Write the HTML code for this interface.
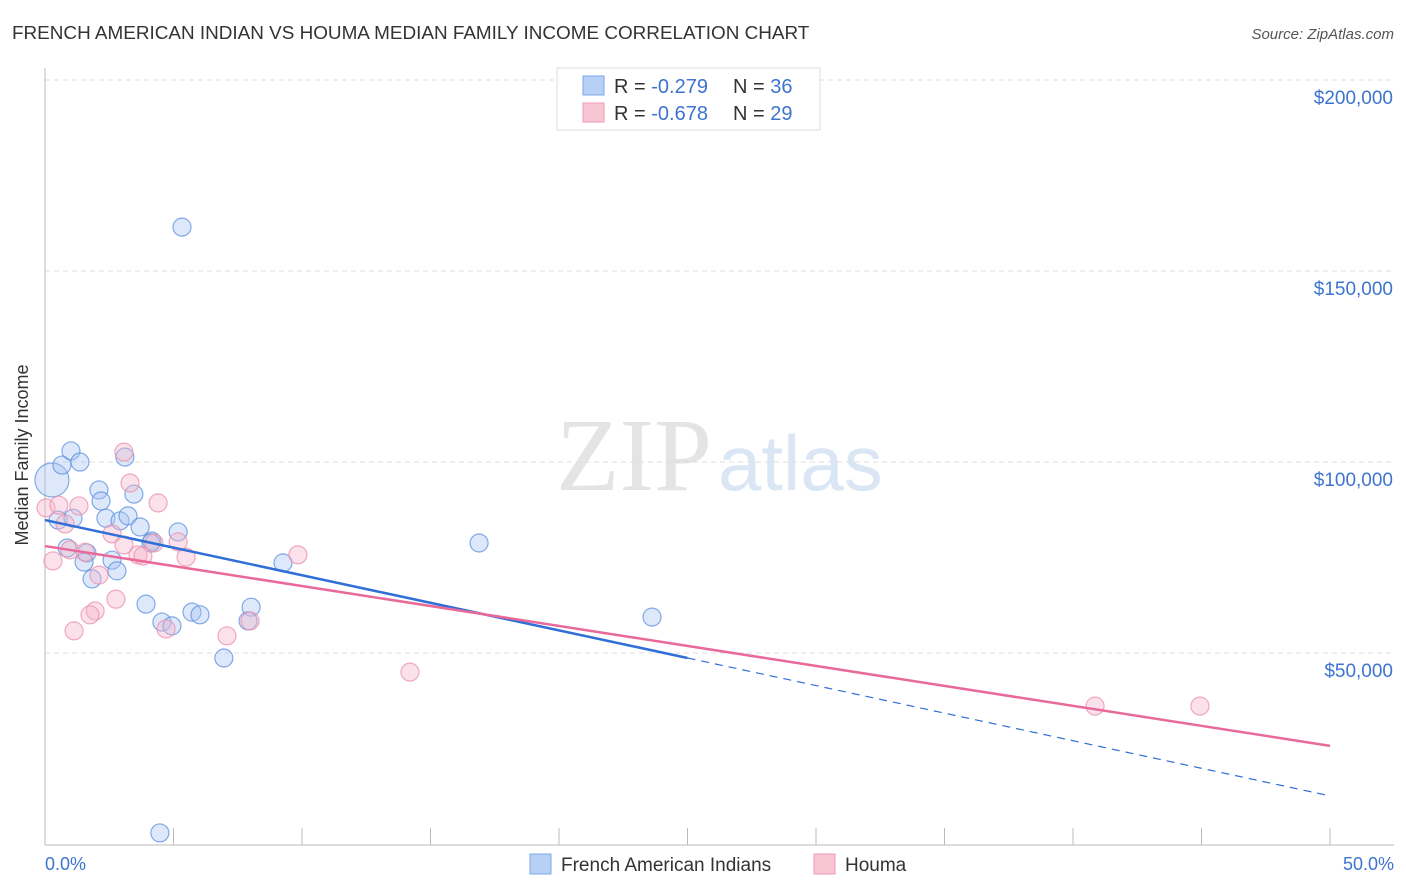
<!DOCTYPE html>
<html><head><meta charset="utf-8"><style>
body{margin:0;background:#fff;font-family:"Liberation Sans",sans-serif;}
svg{display:block}
</style></head><body>
<svg id="chart" width="1406" height="892" xmlns="http://www.w3.org/2000/svg">
<text x="12" y="39" font-size="18.9" fill="#333">FRENCH AMERICAN INDIAN VS HOUMA MEDIAN FAMILY INCOME CORRELATION CHART</text>
<text x="1394" y="39" font-size="15" fill="#555" font-style="italic" text-anchor="end">Source: ZipAtlas.com</text>
<text x="712" y="490" font-size="104" fill="#e4e4e4" font-family="Liberation Serif,serif" text-anchor="end">ZIP</text>
<text x="718" y="490" font-size="78" fill="#dbe6f5">atlas</text>
<g id="grid"></g>
<line x1="45" y1="68" x2="45" y2="845" stroke="#bbb"/>
<line x1="45" y1="845" x2="1394" y2="845" stroke="#bbb"/>
<text x="28" y="455" font-size="18" fill="#333" text-anchor="middle" transform="rotate(-90 28 455)">Median Family Income</text>
<text x="45" y="870" font-size="18" fill="#3d74d0">0.0%</text>
<text x="1394" y="870" font-size="18" fill="#3d74d0" text-anchor="end">50.0%</text>
<g id="marks"></g>
<g>
<rect x="557" y="68" width="263" height="62" fill="#fff" stroke="#ddd"/>
<rect x="583" y="76" width="21" height="19" fill="#b7d0f5" stroke="#7ea6e8"/>
<rect x="583" y="103" width="21" height="19" fill="#f8c5d4" stroke="#ef9ab3"/>
<text x="614" y="93" font-size="20" fill="#333">R = <tspan fill="#3d74d0">-0.279</tspan><tspan x="733">N = </tspan><tspan fill="#3d74d0">36</tspan></text>
<text x="614" y="120" font-size="20" fill="#333">R = <tspan fill="#3d74d0">-0.678</tspan><tspan x="733">N = </tspan><tspan fill="#3d74d0">29</tspan></text>
</g>
<g>
<rect x="530" y="854" width="21" height="20" fill="#b7d0f5" stroke="#7ea6e8"/>
<text x="561" y="871" font-size="19" fill="#333">French American Indians</text>
<rect x="814" y="854" width="21" height="20" fill="#f8c5d4" stroke="#ef9ab3"/>
<text x="845" y="871" font-size="19" fill="#333">Houma</text>
</g>
</svg>
<script>
const yTicks=[50000,100000,150000,200000];
const yTickLabels=["$50,000","$100,000","$150,000","$200,000"];
const xTicks=[0,5,10,15,20,25,30,35,40,45,50];
const blueX=[0.27,0.66,1.01,1.36,0.51,1.09,0.86,1.63,1.52,1.83,2.10,2.18,2.37,2.92,3.23,3.11,3.46,3.70,2.61,2.80,4.16,5.18,3.93,4.55,4.94,5.72,6.03,6.96,8.02,7.90,9.26,5.33,4.47,16.89,23.62,4.12];
const blueY=[95300,99200,102900,100000,84800,85300,77500,76200,73800,69400,92700,89800,85300,84600,85900,101300,91600,83000,74300,71500,79300,81700,62800,58100,57100,60700,60000,48700,62000,58400,73600,161500,2900,78800,59400,78800];
const pinkX=[0.04,0.54,1.32,0.78,0.97,0.31,1.56,2.10,1.95,1.75,1.13,2.76,2.61,3.07,3.07,3.31,3.62,3.81,4.40,4.24,5.18,5.49,4.71,7.08,7.98,9.84,14.20,40.86,44.94];
const pinkY=[88000,88700,88500,83800,77000,74100,76400,70400,61000,60000,55800,64100,81200,78300,102600,94500,75700,75400,89300,78800,79100,75100,56300,54500,58400,75700,45000,36100,36100];
const blueTrend=[84800,-1444];
const pinkTrend=[78000,-1046];
const NS="http://www.w3.org/2000/svg";
const sx=v=>45+v*25.7;
const sy=v=>844-v/261.8;
const grid=document.getElementById('grid'),marks=document.getElementById('marks');
function mk(tag,attrs,parent){const e=document.createElementNS(NS,tag);for(const k in attrs)e.setAttribute(k,attrs[k]);parent.appendChild(e);return e;}
yTicks.forEach((t,i)=>{
 const l=mk('line',{x1:45,x2:1394,y1:sy(t),y2:sy(t),stroke:'#ddd','stroke-dasharray':'5,4'},grid);
 
 
 const tx=mk('text',{x:1393,y:sy(t)+24,'font-size':19,fill:'#3d74d0','text-anchor':'end'},grid);
 tx.textContent=yTickLabels[i];
 
 
});
xTicks.forEach(t=>{
 const l=mk('line',{x1:sx(t),x2:sx(t),y1:828,y2:845,stroke:'#bbb'},grid);
 
 
});
function dots(xs,ys,fill,stroke,name){
 xs.forEach((x,i)=>{
  const r=(name==='blue-point'&&i===0)?17:9;
  const c=mk('circle',{cx:sx(x),cy:sy(ys[i]),r:r,fill:fill,'fill-opacity':0.4,stroke:stroke,'stroke-width':1.2,'stroke-opacity':0.75},marks);
  
  
 });
}
dots(blueX,blueY,'#a9c6f2','#5b8fdf','blue-point');
dots(pinkX,pinkY,'#f6b7ca','#ec8eab','pink-point');
const ty=(tr,x)=>tr[0]+tr[1]*x;
const b1=mk('line',{x1:sx(0),y1:sy(ty(blueTrend,0)),x2:sx(25),y2:sy(ty(blueTrend,25)),stroke:'#2f6fd6','stroke-width':2.5},marks);


const b2=mk('line',{x1:sx(25),y1:sy(ty(blueTrend,25)),x2:sx(50),y2:sy(ty(blueTrend,50)),stroke:'#2f6fd6','stroke-width':1.2,'stroke-dasharray':'8,6'},marks);


const p1=mk('line',{x1:sx(0),y1:sy(ty(pinkTrend,0)),x2:sx(50),y2:sy(ty(pinkTrend,50)),stroke:'#e8699a','stroke-width':2.5},marks);


</script>
</body></html>
